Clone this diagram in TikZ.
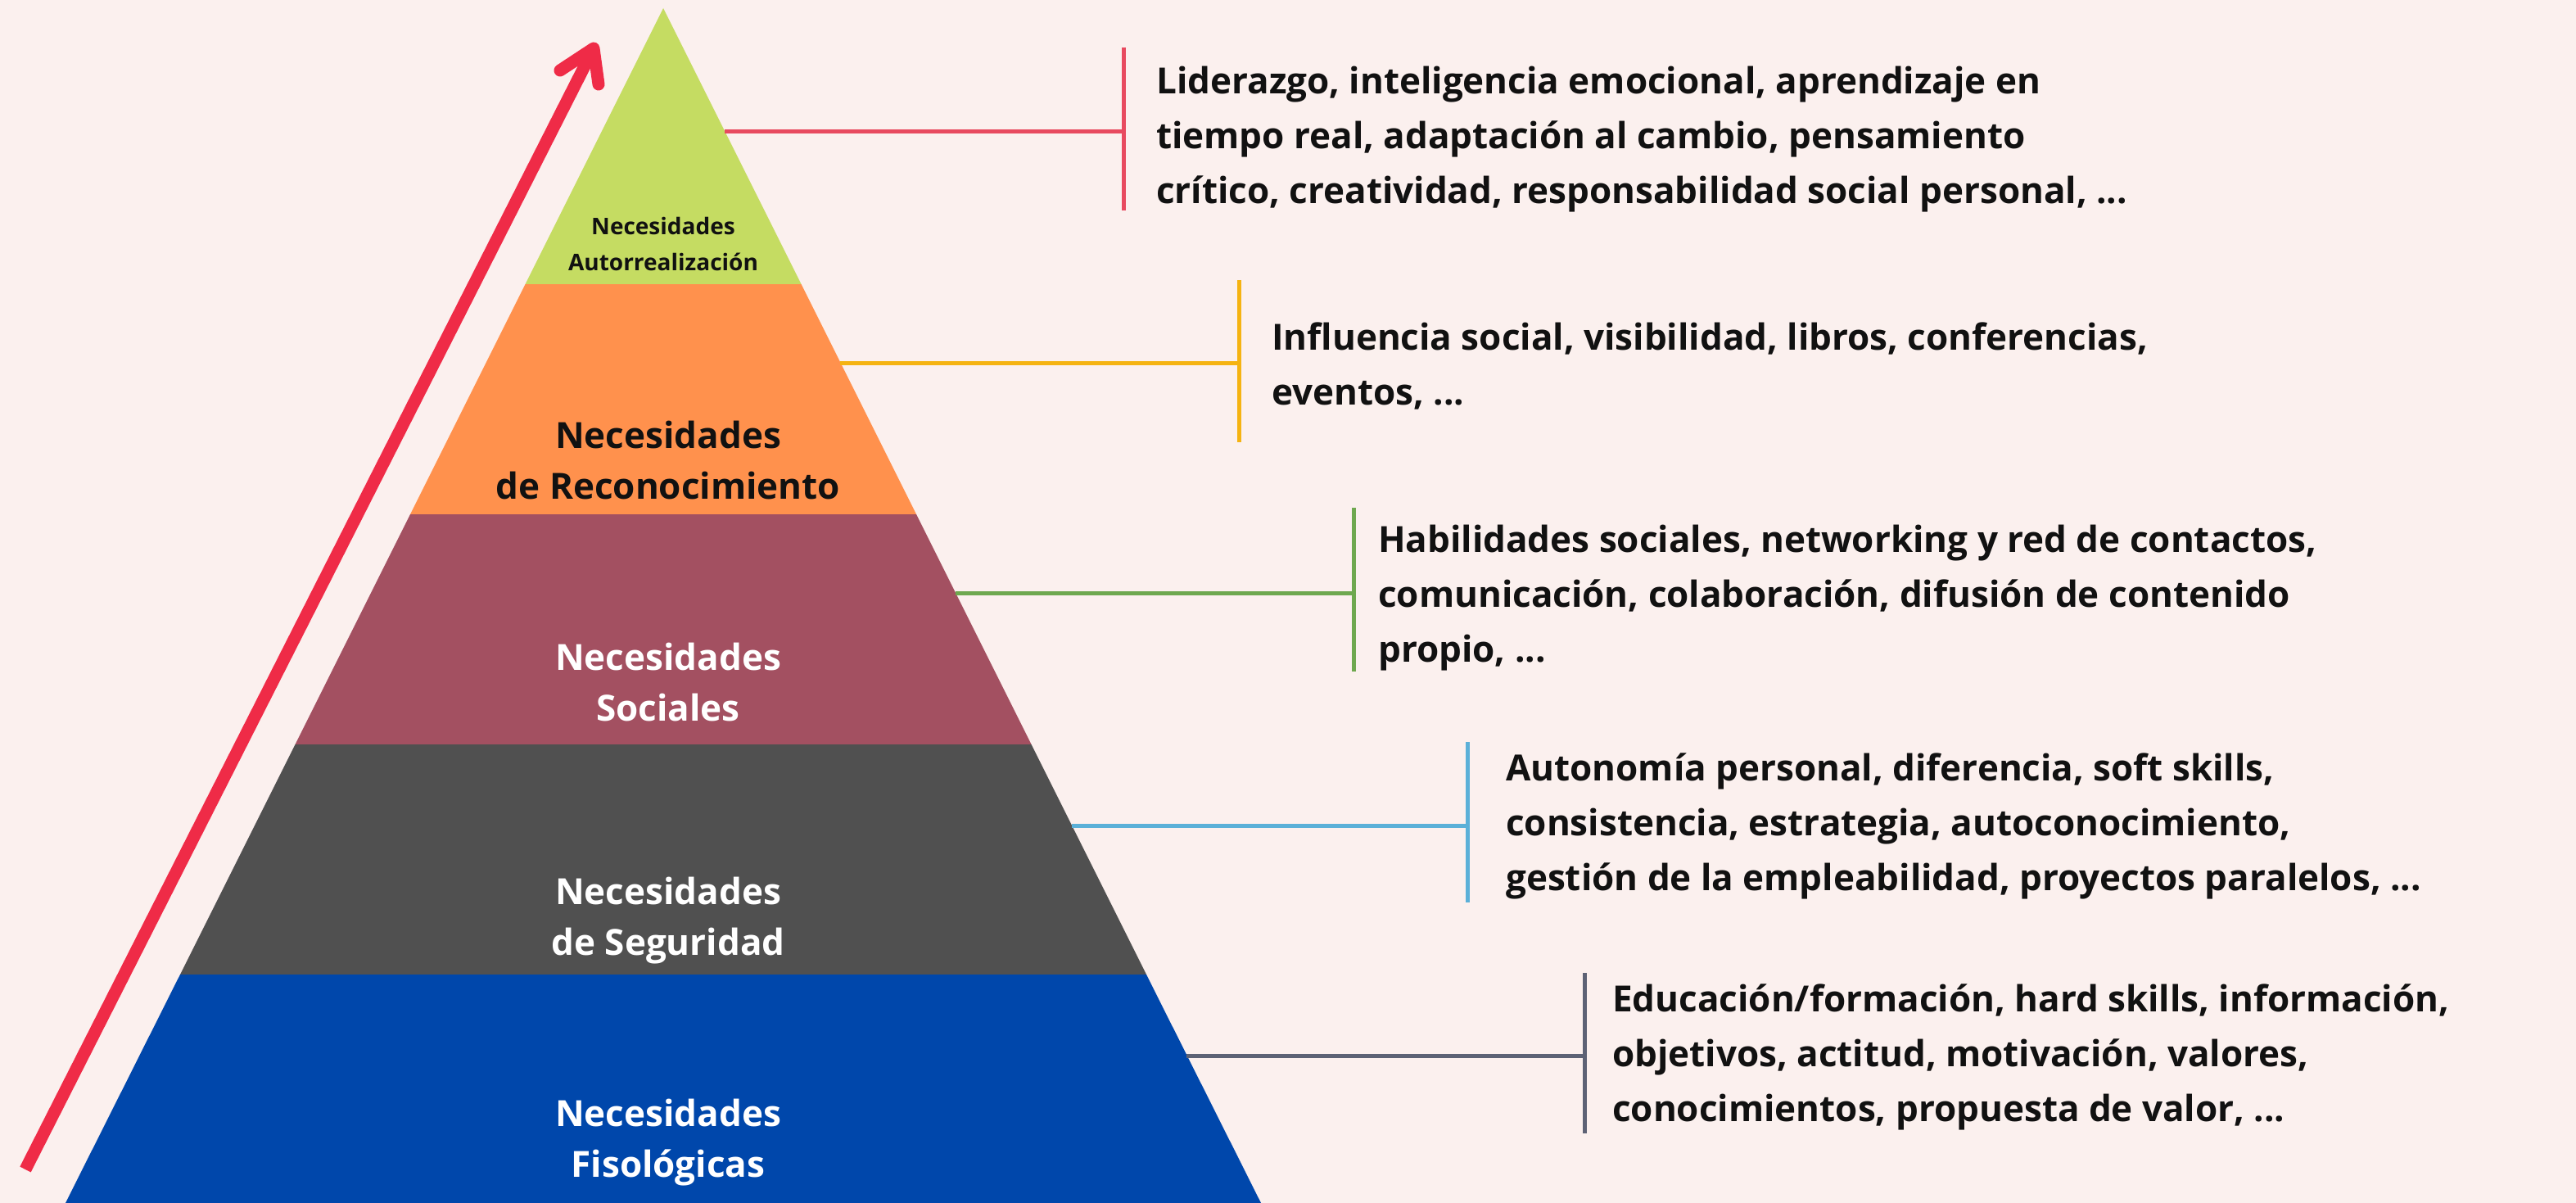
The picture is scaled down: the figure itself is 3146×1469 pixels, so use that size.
\documentclass[tikz,border=0pt]{standalone}
\usepackage{fontspec}
\setmainfont{Open Sans}
\definecolor{bg}{HTML}{FBF0EE}
\definecolor{cgreen}{HTML}{C5DC62}
\definecolor{corange}{HTML}{FF914D}
\definecolor{cmaroon}{HTML}{A35061}
\definecolor{cgray}{HTML}{505050}
\definecolor{cblue}{HTML}{0047AB}
\definecolor{arrred}{HTML}{EF2B47}
\definecolor{lred}{HTML}{E84A5F}
\definecolor{lyellow}{HTML}{F5B311}
\definecolor{lgreen}{HTML}{6EA84F}
\definecolor{lblue}{HTML}{5BB0D8}
\definecolor{lslate}{HTML}{5D6275}
\definecolor{txt}{HTML}{111111}
\tikzset{
  conn/.style={line width=5pt},
  arrowline/.style={draw=arrred, line width=15pt},
  desc/.style={font=\fontsize{44}{67}\selectfont\bfseries, align=left, inner sep=0pt, text=txt, anchor=west},
  plabel/.style={font=\fontsize{44}{62}\selectfont\bfseries, align=center, inner sep=0pt},
}
\begin{document}
\begin{tikzpicture}[x=1pt,y=-1pt]
\useasboundingbox[fill=bg] (0,0) rectangle (3146,1469);
% pyramid bands
\fill[cgreen] (810,10) -- (978.5,347) -- (641.5,347) -- cycle;
\fill[corange] (641.5,347) -- (978.5,347) -- (1119,628) -- (501,628) -- cycle;
\fill[cmaroon] (501,628) -- (1119,628) -- (1259.5,909) -- (360.5,909) -- cycle;
\fill[cgray] (360.5,909) -- (1259.5,909) -- (1400,1190) -- (220,1190) -- cycle;
\fill[cblue] (220,1190) -- (1400,1190) -- (1540,1469) -- (80,1469) -- cycle;
% labels
\node[plabel, text=txt, font=\fontsize{28}{44}\selectfont\bfseries] (l1) at (810,298) {Necesidades\\Autorrealización};
\node[plabel, text=txt] (l2) at (816,562) {Necesidades\\de Reconocimiento};
\node[plabel, text=white] (l3) at (816,833) {Necesidades\\Sociales};
\node[plabel, text=white] (l4) at (816,1124) {Necesidades\\de Seguridad};
\node[plabel, text=white] (l5) at (816,1395) {Necesidades\\Fisológicas};
% arrow
\coordinate (aS) at (31,1428);
\coordinate (aT) at (725,59);
\coordinate (aL) at (684,86);
\coordinate (aR) at (731,103);
\draw[arrowline] (aS) -- (aT);
\draw[arrowline, line cap=round, line join=round] (aL) -- (aT) -- (aR);
% connectors
\coordinate (e1) at (885,161);   \coordinate (b1) at (1372,161);
\coordinate (b1t) at (1372,58);  \coordinate (b1b) at (1372,257);
\coordinate (e2) at (1026,443);  \coordinate (b2) at (1513,443);
\coordinate (b2t) at (1513,342); \coordinate (b2b) at (1513,540);
\coordinate (e3) at (1167,724);  \coordinate (b3) at (1653,724);
\coordinate (b3t) at (1653,620); \coordinate (b3b) at (1653,820);
\coordinate (e4) at (1309,1008); \coordinate (b4) at (1792,1008);
\coordinate (b4t) at (1792,906); \coordinate (b4b) at (1792,1102);
\coordinate (e5) at (1449,1289); \coordinate (b5) at (1935,1289);
\coordinate (b5t) at (1935,1188);\coordinate (b5b) at (1935,1384);
\draw[conn, lred] (e1) -- (b1); \draw[conn, lred] (b1t) -- (b1b);
\draw[conn, lyellow] (e2) -- (b2); \draw[conn, lyellow] (b2t) -- (b2b);
\draw[conn, lgreen] (e3) -- (b3); \draw[conn, lgreen] (b3t) -- (b3b);
\draw[conn, lblue] (e4) -- (b4); \draw[conn, lblue] (b4t) -- (b4b);
\draw[conn, lslate] (e5) -- (b5); \draw[conn, lslate] (b5t) -- (b5b);
% descriptions
\node[desc] (t1) at (1412,170) {Liderazgo, inteligencia emocional, aprendizaje en\\tiempo real, adaptación al cambio, pensamiento\\crítico, creatividad, responsabilidad social personal, ...};
\node[desc] (t2) at (1553,447) {Influencia social, visibilidad, libros, conferencias,\\eventos, ...};
\node[desc] (t3) at (1683,730) {Habilidades sociales, networking y red de contactos,\\comunicación, colaboración, difusión de contenido\\propio, ...};
\node[desc] (t4) at (1839,1009) {Autonomía personal, diferencia, soft skills,\\consistencia, estrategia, autoconocimiento,\\gestión de la empleabilidad, proyectos paralelos, ...};
\node[desc] (t5) at (1969,1291) {Educación/formación, hard skills, información,\\objetivos, actitud, motivación, valores,\\conocimientos, propuesta de valor, ...};
\end{tikzpicture}
\end{document}
